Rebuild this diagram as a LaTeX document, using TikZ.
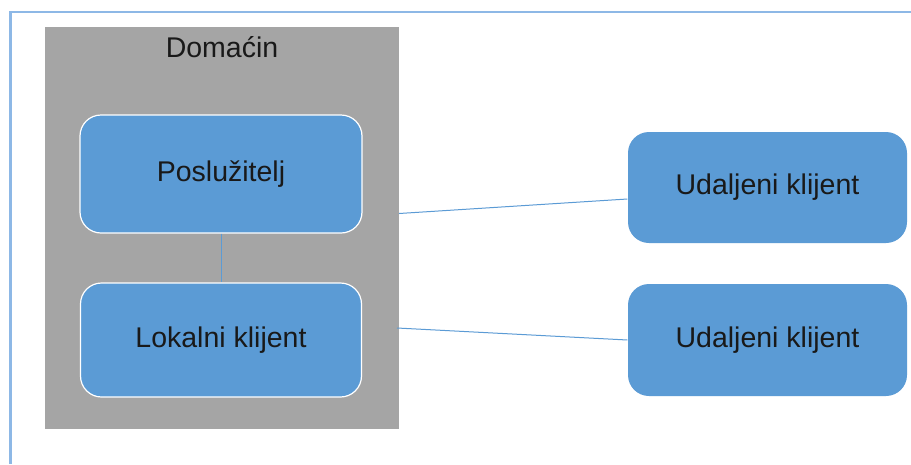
\documentclass[tikz,border=0pt]{standalone}
\usepackage{fontspec}
\setmainfont{Liberation Sans}
\definecolor{boxblue}{HTML}{5B9BD5}
\definecolor{hostgray}{HTML}{A5A5A5}
\definecolor{frameblue}{HTML}{8DB8E6}
\begin{document}
\begin{tikzpicture}[x=1pt,y=-1pt,
  roundbox/.style={draw=white, line width=1.2pt, fill=boxblue, rounded corners=21pt,
    inner sep=0pt, font=\fontsize{28.5}{34}\selectfont, text=black!90},
  link/.style={draw=boxblue, line width=1pt}]
\useasboundingbox (0,0) rectangle (911,464);
\fill[white] (0,0) rectangle (911,464);
\draw[frameblue, line width=2.5pt] (10.5,464) -- (10.5,12) -- (911,12);
\node[fill=hostgray, minimum width=354pt, minimum height=402pt, inner sep=0pt] (host) at (222,228) {};
\node[font=\fontsize{28.5}{34}\selectfont, text=black!90] (hostlabel) at (222,47) {Domaćin};
\node[roundbox, minimum width=282pt, minimum height=118pt] (server) at (221,174) {Poslužitelj};
\node[roundbox, minimum width=281pt, minimum height=114pt] (local) at (221,340) {Lokalni klijent};
\node[roundbox, draw=none, minimum width=279pt, minimum height=111pt] (remote1) at (767.5,187.5) {Udaljeni klijent};
\node[roundbox, draw=none, minimum width=279pt, minimum height=112pt] (remote2) at (767.5,340) {Udaljeni klijent};
\coordinate (h1) at (399,213.5);
\coordinate (h2) at (397,328);
\draw[link] (server.south) -- (local.north);
\draw[link] (h1) -- (remote1.west |- 0,199);
\draw[link] (h2) -- (remote2.west);
\end{tikzpicture}
\end{document}
